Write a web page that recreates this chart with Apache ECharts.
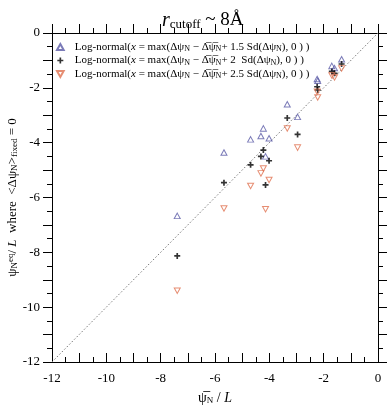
<!DOCTYPE html>
<html><head><meta charset="utf-8">
<script src="https://cdn.jsdelivr.net/npm/echarts@6/dist/echarts.min.js"></script>
<style>html,body{margin:0;padding:0;background:#fff}#c{width:389px;height:406px}</style>
</head><body><div id="c"></div>
<script>
var xVals = [-7.39, -5.67, -4.69, -4.31, -4.22, -4.14, -4.01, -3.34, -2.96, -2.24, -2.22, -1.70, -1.60, -1.34];
var y15 = [-6.67, -4.36, -3.88, -3.76, -3.48, -4.50, -3.84, -2.60, -3.06, -1.68, -1.74, -1.20, -1.28, -0.96];
var y20 = [-8.13, -5.46, -4.81, -4.50, -4.27, -5.54, -4.66, -3.10, -3.70, -1.96, -2.08, -1.40, -1.47, -1.13];
var y25 = [-9.40, -6.40, -5.58, -5.12, -4.94, -6.43, -5.36, -3.48, -4.18, -2.14, -2.35, -1.55, -1.62, -1.29];
var diagonal = [[-12, -12], [0, 0]];
var seriesNames = ['s15', 's20', 's25'];
var factors = ['1.5', '2 ', '2.5'];
var axisMin = -12, axisMax = 0;

function pairs(ys){ return xVals.map(function(x,i){ return [x, ys[i]]; }); }
var serif = 'Liberation Serif';
var ch = echarts.init(document.getElementById('c'));
var plusPath = 'path://M3.6,0H6.4V3.6H10V6.4H6.4V10H3.6V6.4H0V3.6H3.6Z';
var downTri = 'path://M0,0L10,0L5,9Z';
var upTri = 'path://M5,0L10,9L0,9Z';
var ol = '\u0305';
function legendText(name){
  var f = factors[seriesNames.indexOf(name)];
  return 'Log-normal({it|x} = max(\u0394\u03c8{sub|N} \u2212 \u0394' + ol + '\u03c8' + ol + '{sub|N}+ ' + f + ' Sd(\u0394\u03c8{sub|N}), 0 ) )';
}
var axCommon = {type:'value', min:axisMin, max:axisMax, interval:1,
  splitLine:{show:false},
  axisLine:{onZero:false, lineStyle:{color:'#000', width:1}},
  minorTick:{show:true, splitNumber:2, length:5, lineStyle:{color:'#000'}},
  axisTick:{length:9, lineStyle:{color:'#000'}}
};
function labelFmt(v){ return (Math.round(v) % 2 === 0) ? String(v) : ''; }
ch.setOption({
  animation:false,
  title:{text:'{it|r}{sub|cutoff} ~ 8\u00c5', left:157, top:4,
    textStyle:{fontFamily:serif, fontSize:19, fontWeight:'normal', color:'#000',
      rich:{it:{fontFamily:serif, fontStyle:'italic', fontSize:20, lineHeight:22, verticalAlign:'bottom'},
            sub:{fontFamily:serif, fontSize:13, lineHeight:10, verticalAlign:'bottom'}}}},
  grid:{left:52, right:11, top:33, bottom:44, containLabel:false, outerBoundsMode:'none'},
  legend:{show:true, orient:'vertical', left:51, top:36, itemGap:1.5, itemWidth:7, itemHeight:6,
    data:seriesNames, formatter:legendText,
    textStyle:{fontFamily:serif, fontSize:11, color:'#000', lineHeight:12, padding:[0,0,0,6],
      rich:{it:{fontFamily:serif, fontStyle:'italic', fontSize:11},
            sub:{fontFamily:serif, fontSize:8, verticalAlign:'bottom', lineHeight:8}}}},
  xAxis:[
    Object.assign({}, axCommon, {position:'bottom',
      axisTick:{inside:true, length:9, lineStyle:{color:'#000'}},
      minorTick:{show:true, splitNumber:2, length:5, lineStyle:{color:'#000'}},
      axisLabel:{formatter:labelFmt, fontFamily:serif, fontSize:13, color:'#000', margin:10, showMinLabel:true, showMaxLabel:true},
      name:'\u03c8' + ol + '{sub|N} / {it|L}', nameLocation:'middle', nameGap:29, nameMoveOverlap:false,
      nameTextStyle:{fontFamily:serif, fontSize:14, color:'#000',
        rich:{it:{fontFamily:serif, fontStyle:'italic', fontSize:14},
              sub:{fontFamily:serif, fontSize:9, verticalAlign:'bottom', lineHeight:10}}}}),
    Object.assign({}, axCommon, {position:'top', axisLabel:{show:false}})
  ],
  yAxis:[
    Object.assign({}, axCommon, {position:'left',
      axisLabel:{formatter:labelFmt, fontFamily:serif, fontSize:13, color:'#000', margin:12, showMinLabel:true, showMaxLabel:true},
      name:'\u03c8{sub|N}{sup|eq}/ {it|L}  where  <\u0394\u03c8{sub|N}>{sub|fixed} = 0', nameLocation:'middle', nameGap:33, nameRotate:90, nameMoveOverlap:false,
      nameTextStyle:{fontFamily:serif, fontSize:13, color:'#000',
        rich:{it:{fontFamily:serif, fontStyle:'italic', fontSize:13},
              sub:{fontFamily:serif, fontSize:9, verticalAlign:'bottom', lineHeight:10},
              sup:{fontFamily:serif, fontSize:9, verticalAlign:'top', lineHeight:10}}}}),
    Object.assign({}, axCommon, {position:'right', axisLabel:{show:false}})
  ],
  series:[
    {type:'line', data:diagonal, symbol:'none', silent:true, lineStyle:{color:'#777', width:1, type:[1.5,2]}, z:1},
    {name:'s15', type:'scatter', data:pairs(y15), symbol:upTri, symbolSize:[6,5.5],
      itemStyle:{color:'rgba(255,255,255,0)', borderColor:'#5a5aa6', borderWidth:1}, z:3},
    {name:'s20', type:'scatter', data:pairs(y20), symbol:plusPath, symbolSize:6,
      itemStyle:{color:'#000'}, z:3},
    {name:'s25', type:'scatter', data:pairs(y25), symbol:downTri, symbolSize:[6,5.5],
      itemStyle:{color:'rgba(255,255,255,0)', borderColor:'#e0714f', borderWidth:1}, z:3}
  ]
});
</script></body></html>
